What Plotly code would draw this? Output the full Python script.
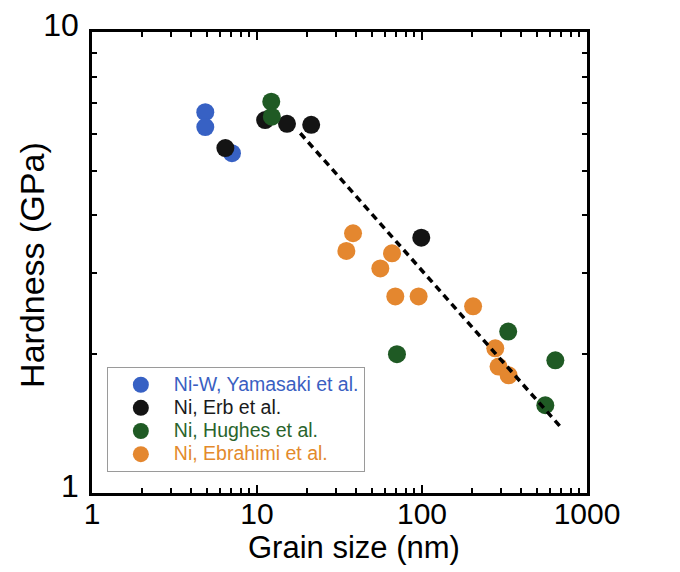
import plotly.graph_objects as go

# Grain size (nm) and hardness (GPa) for each data set
yamasaki_d = [4.86, 4.86, 7.05]
yamasaki_h = [6.7, 6.22, 5.46]

erb_d = [6.43, 11.2, 15.2, 21.3, 99]
erb_h = [5.6, 6.44, 6.32, 6.29, 3.58]

hughes_d = [12.2, 12.3, 70.5, 333, 643, 559]
hughes_h = [7.06, 6.55, 2.0, 2.24, 1.94, 1.55]

ebrahimi_d = [38.2, 34.8, 65.8, 55.9, 68.9, 95.4, 204, 278, 291, 335]
ebrahimi_h = [3.66, 3.35, 3.31, 3.07, 2.67, 2.67, 2.54, 2.06, 1.88, 1.80]

# Hall-Petch style guide line (end points)
fit_d = [18.3, 705]
fit_h = [6.03, 1.38]

x_ticks = [1, 10, 100, 1000]
x_ticktext = ["1", "10", "100", "1000"]
y_ticks = [1, 10]
y_ticktext = ["1", "10"]
minor_x = [m * 10 ** e for e in range(3) for m in range(2, 10)]
minor_y = [m for m in range(2, 10)]

series = [
    ("Ni-W, Yamasaki et al.", yamasaki_d, yamasaki_h, "#3761c4", "#3a5fc2"),
    ("Ni, Erb et al.", erb_d, erb_h, "#141414", "#1a1a1a"),
    ("Ni, Hughes et al.", hughes_d, hughes_h, "#1f5a24", "#2a642c"),
    ("Ni, Ebrahimi et al.", ebrahimi_d, ebrahimi_h, "#e4872f", "#e38a2c"),
]

fig = go.Figure()
for name, d, h, color, text_color in series:
    fig.add_trace(go.Scatter(
        x=d, y=h, mode="markers",
        name=f"<span style='color:{text_color};font-size:19.5px'>{name}</span>",
        marker=dict(size=18, color=color, line=dict(width=0)),
    ))

fig.add_trace(go.Scatter(
    x=fit_d, y=fit_h, mode="lines", showlegend=False,
    line=dict(color="black", width=3.5, dash="7px,5px"),
))

axis_common = dict(
    type="log", automargin=False,
    showline=True, linecolor="black", linewidth=2.5,
    mirror="ticks", ticks="inside", ticklen=8, tickwidth=2, tickcolor="black",
    showgrid=False, zeroline=False,
)

fig.update_xaxes(
    **axis_common,
    range=[0, 3],
    tickmode="array", tickvals=x_ticks, ticktext=x_ticktext,
    tickfont=dict(size=30, color="black"),
    ticklabelstandoff=-8,
    minor=dict(tickmode="array", tickvals=minor_x, ticks="inside",
               ticklen=5, tickwidth=2, tickcolor="black", showgrid=False),
)
fig.update_yaxes(
    **axis_common,
    range=[0, 1],
    tickmode="array", tickvals=y_ticks, ticktext=y_ticktext,
    tickfont=dict(size=32, color="black"),
    ticklabelshift=-7, ticklabelstandoff=4,
    minor=dict(tickmode="array", tickvals=minor_y, ticks="inside",
               ticklen=5, tickwidth=2, tickcolor="black", showgrid=False),
)

# Axis titles
fig.add_annotation(
    text="Grain size (nm)", xref="paper", yref="paper",
    x=0.529, y=-0.119, xanchor="center", yanchor="middle",
    showarrow=False, font=dict(size=31, color="black"),
)
fig.add_annotation(
    text="Hardness (GPa)", xref="paper", yref="paper",
    x=-0.121, y=0.495, xanchor="center", yanchor="middle", textangle=-90,
    showarrow=False, font=dict(size=34, color="black"),
)

fig.update_layout(
    width=680, height=572,
    margin=dict(l=92, r=93, t=32, b=79),
    paper_bgcolor="white", plot_bgcolor="white",
    font=dict(family="Liberation Sans, Arial, sans-serif", color="black"),
    legend=dict(
        x=0.030, y=0.273, xanchor="left", yanchor="top",
        bgcolor="white", bordercolor="#9a9a9a", borderwidth=1,
        font=dict(size=15.5), itemwidth=56, tracegroupgap=0,
    ),
)

fig.write_html("out.html")
